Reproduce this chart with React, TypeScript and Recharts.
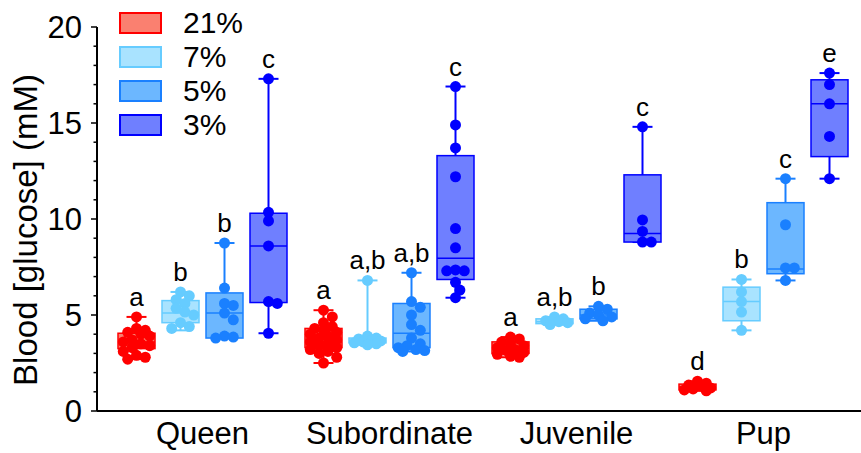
import React from 'react'
import { ComposedChart, Bar, XAxis, YAxis, Legend } from 'recharts'

const groups = ['Queen', 'Subordinate', 'Juvenile', 'Pup']
const levels = ['21%', '7%', '5%', '3%']
const yTicks = [0, 1, 2, 3, 4, 5, 6, 7, 8, 9, 10, 11, 12, 13, 14, 15, 16, 17, 18, 19, 20]

// box stats per group: [min, q1, median, q3, max]
const box21 = [[2.7, 3.25, 3.6, 4.05, 4.9], [2.5, 3.3, 3.6, 4.3, 5.25], [2.8, 3.0, 3.25, 3.6, 3.85], [1.05, 1.1, 1.25, 1.4, 1.55]]
const box7 = [[4.2, 4.6, 5.1, 5.75, 6.2], [3.45, 3.55, 3.65, 3.8, 6.8], [4.5, 4.55, 4.65, 4.8, 4.9], [4.2, 4.7, 5.7, 6.45, 6.85]]
const box5 = [[3.8, 3.8, 5.1, 6.15, 8.75], [3.1, 3.3, 4.05, 5.6, 7.2], [4.7, 4.8, 5.0, 5.3, 5.45], [6.8, 7.15, 7.4, 10.85, 12.1]]
const box3 = [[4.05, 5.65, 8.6, 10.3, 17.3], [5.9, 6.85, 7.95, 13.3, 16.9], [8.8, 8.8, 9.25, 12.3, 14.8], [12.1, 13.25, 16.0, 17.25, 17.6]]

// individual animals
const pts21 = [
  [4.9, 4.3, 4.2, 4.1, 4.0, 3.9, 3.7, 3.6, 3.5, 3.4, 3.3, 3.1, 2.9, 2.8, 2.7],
  [5.25, 4.9, 4.6, 4.4, 4.3, 4.2, 4.1, 4.0, 3.9, 3.8, 3.7, 3.6, 3.5, 3.4, 3.3, 3.2, 3.1, 3.0, 2.8, 2.5],
  [3.85, 3.75, 3.6, 3.5, 3.4, 3.3, 3.2, 3.15, 3.05, 2.95, 2.85, 2.8],
  [1.55, 1.45, 1.35, 1.3, 1.2, 1.15, 1.1, 1.05],
]
const pts7 = [
  [6.2, 6.0, 5.8, 5.6, 5.35, 5.15, 5.0, 4.6, 4.4, 4.3],
  [6.8, 3.9, 3.8, 3.75, 3.7, 3.65, 3.6, 3.55, 3.5, 3.45],
  [4.9, 4.8, 4.7, 4.65, 4.6, 4.5],
  [6.85, 6.2, 5.7, 5.15, 4.2],
]
const pts5 = [
  [8.75, 6.4, 5.6, 5.5, 5.1, 4.75, 3.9, 3.85, 3.8],
  [7.2, 5.7, 5.4, 5.0, 4.5, 4.2, 3.8, 3.5, 3.4, 3.3, 3.2, 3.15, 3.1],
  [5.45, 5.3, 5.1, 5.0, 4.9, 4.8, 4.7],
  [12.1, 9.7, 7.45, 7.45, 6.8],
]
const pts3 = [
  [17.3, 10.35, 9.9, 8.6, 5.7, 5.6, 4.05],
  [16.9, 14.9, 13.7, 12.2, 9.5, 8.5, 7.35, 7.3, 7.3, 6.7, 6.3, 5.9],
  [14.8, 9.95, 9.35, 8.8, 8.8],
  [17.6, 17.0, 16.0, 14.3, 12.1],
]

// significance letters
const sig21 = ['a', 'a', 'a', 'd']
const sig7 = ['b', 'a,b', 'a,b', 'b']
const sig5 = ['b', 'a,b', 'b', 'c']
const sig3 = ['c', 'c', 'c', 'e']

const strokes = ['#ff0000', '#66ccff', '#1a80ff', '#0000ff']
const fills = ['#fa8070', '#a9e3ff', '#6cb7ff', '#6f7fff']
const font = '"Liberation Sans", Arial, sans-serif'

const boxes = [box21, box7, box5, box3]
const points = [pts21, pts7, pts5, pts3]
const sigs = [sig21, sig7, sig5, sig3]

const data = groups.map((g, i) => {
  const row: any = { group: g }
  levels.forEach((_, k) => {
    row['s' + k] = { box: boxes[k][i], pts: points[k][i], sig: sigs[k][i] }
  })
  return row
})

// simple beeswarm: push overlapping dots sideways
function swarm(ys: number[], r: number, maxDx: number) {
  const placed: { x: number; y: number }[] = []
  const order = ys.map((_, i) => i).sort((a, b) => ys[a] - ys[b])
  const out: number[] = ys.map(() => 0)
  for (const i of order) {
    let best = 0
    let bestScore = -1
    for (let k = 0; k <= 10; k++) {
      const cands = k === 0 ? [0] : [k * r * 0.8, -k * r * 0.8]
      let done = false
      for (const dx of cands) {
        if (Math.abs(dx) > maxDx) continue
        const d = Math.min(Infinity, ...placed.map((p) => Math.hypot(p.x - dx, p.y - ys[i])))
        if (d >= 1.5 * r) { best = dx; done = true; break }
        if (d > bestScore) { bestScore = d; best = dx }
      }
      if (done) break
    }
    out[i] = best
    placed.push({ x: best, y: ys[i] })
  }
  return out
}

function BoxShape(props: any) {
  const { x, y, width, height, payload, idx } = props
  const s = payload['s' + idx]
  const [lo, q1, med, q3, hi] = s.box
  const py = (v: number) => y + (height * (hi - v)) / (hi - lo)
  const cx = x + width / 2
  const stroke = strokes[idx]
  const r = 5.5
  const ys = s.pts.map((v: number) => py(v))
  const dxs = swarm(ys, r, width / 2 - 4)
  const cap = 10
  return (
    <g>
      <line x1={cx} x2={cx} y1={py(hi)} y2={py(lo)} stroke={stroke} strokeWidth={2} />
      <line x1={cx - cap} x2={cx + cap} y1={py(hi)} y2={py(hi)} stroke={stroke} strokeWidth={2} />
      <line x1={cx - cap} x2={cx + cap} y1={py(lo)} y2={py(lo)} stroke={stroke} strokeWidth={2} />
      <rect x={x} y={py(q3)} width={width} height={py(q1) - py(q3)} fill={fills[idx]} stroke={stroke} strokeWidth={1.5} />
      <line x1={x} x2={x + width} y1={py(med)} y2={py(med)} stroke={stroke} strokeWidth={1.5} />
      {ys.map((yy: number, i: number) => (
        <circle key={i} cx={cx + dxs[i]} cy={yy} r={r} fill={stroke} />
      ))}
      <text x={cx} y={py(hi) - 11} textAnchor="middle" fontSize={26} fill="#000">{s.sig}</text>
    </g>
  )
}

function YTick(props: any) {
  const { x, y, payload } = props
  const major = payload.value % 5 === 0
  const axisX = x + 15
  return (
    <g>
      <line x1={axisX - (major ? 6 : 3.5)} x2={axisX} y1={y} y2={y} stroke="#000" strokeWidth={1.5} />
      {major && (
        <text x={x} y={y} dy="0.355em" textAnchor="end" fontSize={31} fill="#000">{payload.value}</text>
      )}
    </g>
  )
}

function YLabel(props: any) {
  const vb = props.viewBox || { x: 0, y: 27, width: 97, height: 384 }
  const lx = vb.x + 37
  const ly = vb.y + vb.height / 2 + 11
  return (
    <text x={lx} y={ly} transform={`rotate(-90, ${lx}, ${ly})`} textAnchor="middle" fontSize={33} fill="#000">
      Blood [glucose] (mM)
    </text>
  )
}

function LegendBox(props: any) {
  const payload = [...(props.payload || [])].sort((a: any, b: any) => levels.indexOf(a.value) - levels.indexOf(b.value))
  return (
    <div style={{ fontFamily: font }}>
      {payload.map((e: any) => {
        const k = levels.indexOf(e.value)
        return (
          <div key={e.value} style={{ display: 'flex', alignItems: 'center', height: 34 }}>
            <div style={{ width: 43, height: 22, boxSizing: 'border-box', border: `2px solid ${strokes[k]}`, background: fills[k] }} />
            <span style={{ marginLeft: 21, fontSize: 30, lineHeight: '34px', color: '#000' }}>{e.value}</span>
          </div>
        )
      })}
    </div>
  )
}

export default function App() {
  return (
    <div style={{ width: 861, height: 453, fontFamily: font, background: '#fff' }}>
      <style>{'body{margin:0}'}</style>
      <ComposedChart width={861} height={453} data={data} margin={{ top: 27, right: 0, bottom: 0, left: 0 }} barSize={37} barGap={7}>
        <XAxis
          dataKey="group"
          height={42}
          padding={{ left: 12, right: 4 }}
          axisLine={{ stroke: '#000', strokeWidth: 2 }}
          tickLine={false}
          tickSize={6}
          tickMargin={5}
          tick={{ fontSize: 31, fill: '#000' }}
        />
        <YAxis
          width={97}
          domain={[0, 20]}
          ticks={yTicks}
          interval={0}
          axisLine={{ stroke: '#000', strokeWidth: 2 }}
          tickLine={false}
          tickSize={6}
          tickMargin={9}
          tick={<YTick />}
          label={<YLabel />}
        />
        <Legend
          layout="vertical"
          align="center"
          verticalAlign="middle"
          content={<LegendBox />}
          wrapperStyle={{ left: 119, top: 6, width: 'auto', height: 'auto' }}
        />
        {levels.map((lv, k) => (
          <Bar
            key={lv}
            name={lv}
            dataKey={(d: any) => [d['s' + k].box[0], d['s' + k].box[4]]}
            fill={fills[k]}
            stroke={strokes[k]}
            isAnimationActive={false}
            shape={(p: any) => <BoxShape {...p} idx={k} />}
          />
        ))}
      </ComposedChart>
    </div>
  )
}
